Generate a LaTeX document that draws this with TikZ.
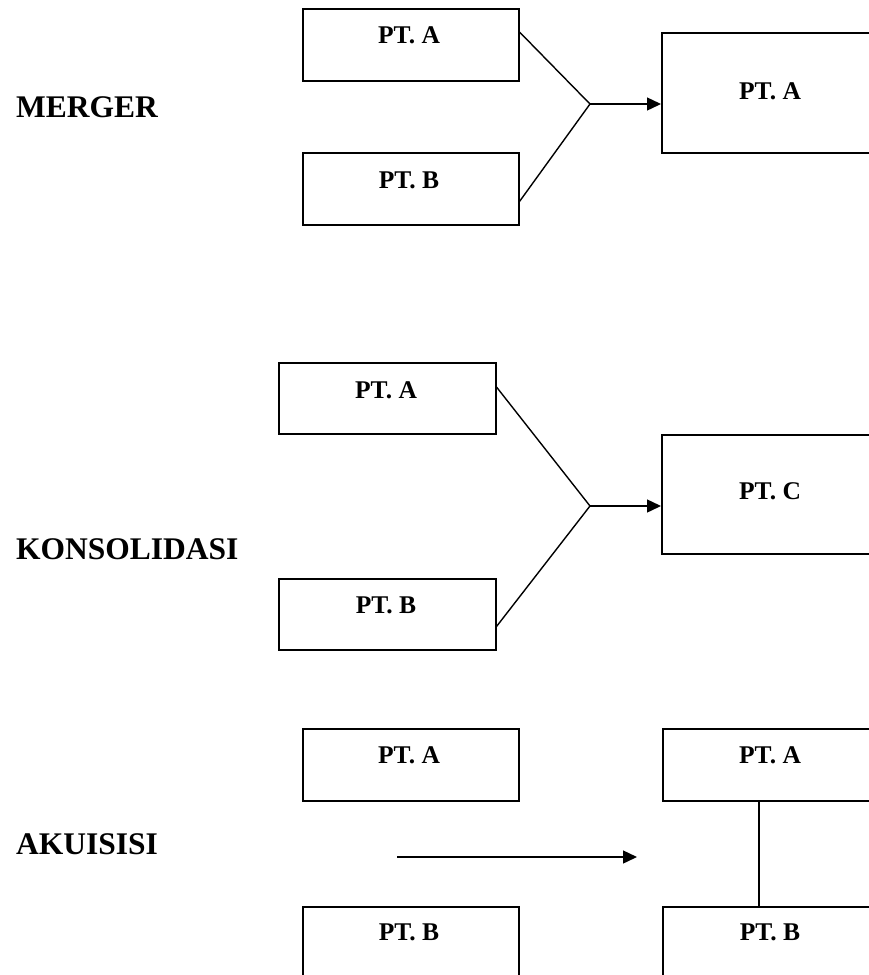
\documentclass[tikz,border=0pt]{standalone}
\usepackage{fontspec}
\setmainfont{Liberation Serif}
\usetikzlibrary{arrows.meta}
\begin{document}
\begin{tikzpicture}[x=1pt,y=-1pt,
  box/.style={draw,line width=1.5pt,inner sep=0pt,minimum width=216pt,minimum height=72pt,anchor=north west},
  bigbox/.style={draw,line width=1.5pt,inner sep=0pt,minimum width=260pt,minimum height=120pt,anchor=north west},
  widebox/.style={draw,line width=1.5pt,inner sep=0pt,minimum width=260pt,minimum height=72pt,anchor=north west},
  boxtext/.style={anchor=base,inner sep=0pt,font=\fontsize{25.5}{30}\selectfont\bfseries},
  label/.style={anchor=base west,inner sep=0pt,font=\fontsize{31.5}{36}\selectfont\bfseries},
  conn/.style={line width=1.4pt},
  arr/.style={line width=1.4pt,-{Triangle[length=14pt,width=13pt]}}]
\useasboundingbox (0,0) rectangle (869,975);
\clip (0,0) rectangle (869,975);

% ---------- MERGER ----------
\node[label] (lm) at (16,117) {MERGER};
\node[box] (ma) at (302,8) {};
\node[box] (mb) at (302,152) {};
\node[bigbox] (mc) at (661,32) {};
\node[boxtext] (mat) at (409,43) {PT. A};
\node[boxtext] (mbt) at (409,188) {PT. B};
\node[boxtext] (mct) at (770,99) {PT. A};
\coordinate (mj) at (590,104);
\draw[conn] ([yshift=-24pt]ma.north east) -- (mj) -- ([yshift=24pt]mb.south east);
\draw[arr] (mj) -- (mc.west |- mj);

% ---------- KONSOLIDASI ----------
\node[label] (lk) at (16,559) {KONSOLIDASI};
\node[box,minimum width=217pt,minimum height=71pt] (ka) at (278,362) {};
\node[box,minimum width=217pt,minimum height=71pt] (kb) at (278,578) {};
\node[bigbox,minimum height=119pt] (kc) at (661,434) {};
\node[boxtext] (kat) at (386,398) {PT. A};
\node[boxtext] (kbt) at (386,613) {PT. B};
\node[boxtext] (kct) at (770,499) {PT. C};
\coordinate (kj) at (590,506);
\draw[conn] ([yshift=-25pt]ka.north east) -- (kj) -- ([yshift=24pt]kb.south east);
\draw[arr] (kj) -- (kc.west |- kj);

% ---------- AKUISISI ----------
\node[label] (la) at (16,854) {AKUISISI};
\node[box] (aa) at (302,728) {};
\node[box,minimum height=100pt] (ab) at (302,906) {};
\node[widebox] (ra) at (662,728) {};
\node[widebox,minimum height=100pt] (rb) at (662,906) {};
\node[boxtext] (aat) at (409,763) {PT. A};
\node[boxtext] (abt) at (409,940) {PT. B};
\node[boxtext] (rat) at (770,763) {PT. A};
\node[boxtext] (rbt) at (770,940) {PT. B};
\coordinate (as) at (397,857);
\coordinate (ae) at (637,857);
\draw[arr] (as) -- (ae);
\draw[conn] ([xshift=97pt]ra.south west) -- ([xshift=97pt]rb.north west);
\end{tikzpicture}
\end{document}
